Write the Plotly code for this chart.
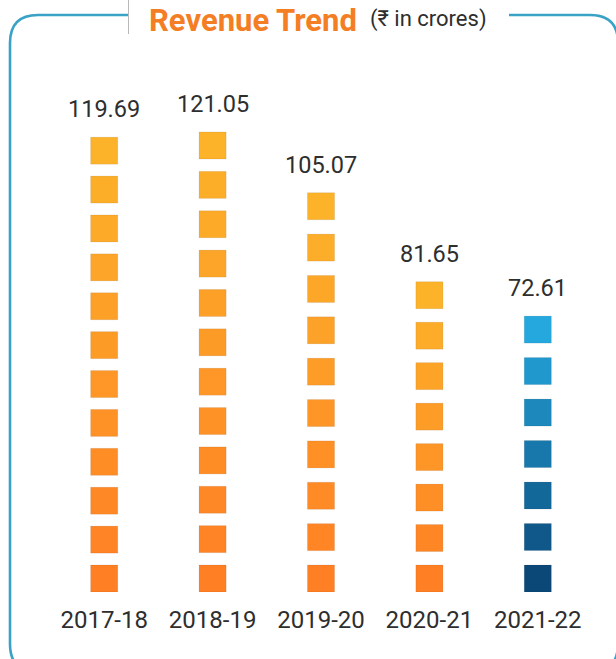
import plotly.graph_objects as go

# Revenue per financial year (₹ in crores)
years = ["2017-18", "2018-19", "2019-20", "2020-21", "2021-22"]
revenue = [119.69, 121.05, 105.07, 81.65, 72.61]
tile_counts = [12, 12, 10, 8, 7]

# Column gradients (top colour, bottom colour)
orange_top, orange_bottom = (252, 179, 42), (255, 127, 36)
blue_top, blue_bottom = (36, 168, 222), (11, 72, 120)
gradients = [(orange_top, orange_bottom)] * 4 + [(blue_top, blue_bottom)]

FONT = "Roboto, Noto Sans, sans-serif"
W, H = 616, 659
M = dict(l=50, r=24, t=100, b=67)
PX_PER_UNIT = 3.8
plot_h = H - M["t"] - M["b"]
plot_w = W - M["l"] - M["r"]
y_max = plot_h / PX_PER_UNIT
tile_h = 27 / PX_PER_UNIT
tile_w = 0.25


def mix(c1, c2, f):
    r, g, b = (round(a + (b_ - a) * f) for a, b_ in zip(c1, c2))
    return f"rgb({r},{g},{b})"


def px_x(px):
    return (px - M["l"]) / plot_w


def px_y(py):
    return 1 - (py - M["t"]) / plot_h


fig = go.Figure()

for i, (val, n, (top_c, bot_c)) in enumerate(zip(revenue, tile_counts, gradients)):
    step = (val - tile_h) / (n - 1)
    bases = [j * step for j in range(n)]
    colors = [mix(bot_c, top_c, j / (n - 1)) for j in range(n)]
    fig.add_trace(go.Bar(
        x=[i] * n,
        base=bases,
        y=[tile_h] * n,
        width=tile_w,
        marker=dict(color=colors, line=dict(width=0.6, color="rgba(0,0,0,0.12)")),
        hoverinfo="skip",
        showlegend=False,
    ))
    fig.add_annotation(
        x=i, y=val, xref="x", yref="y",
        text=f"{val:.2f}", showarrow=False,
        yanchor="bottom", yshift=12,
        font=dict(family=FONT, size=23.5, color="#2e2e2e"),
    )

# Rounded frame around the chart
x0, x1 = px_x(10), px_x(618)
y0, y1 = px_y(15), px_y(672)
rx = 28 / plot_w
ry = 28 / plot_h
frame = (
    f"M {x0},{y1 + ry} L {x0},{y0 - ry} Q {x0},{y0} {x0 + rx},{y0} "
    f"L {x1 - rx},{y0} Q {x1},{y0} {x1},{y0 - ry} "
    f"L {x1},{y1 + ry} Q {x1},{y1} {x1 - rx},{y1} "
    f"L {x0 + rx},{y1} Q {x0},{y1} {x0},{y1 + ry} Z"
)
shapes = [
    dict(type="path", path=frame, xref="paper", yref="paper",
         line=dict(color="#3aa2c7", width=2.6), fillcolor="rgba(0,0,0,0)", layer="below"),
    # title plate
    dict(type="rect", xref="paper", yref="paper",
         x0=px_x(128), x1=px_x(509), y0=px_y(34), y1=px_y(-2),
         fillcolor="white", line=dict(width=0), layer="below"),
    dict(type="line", xref="paper", yref="paper",
         x0=px_x(128.5), x1=px_x(128.5), y0=px_y(34), y1=px_y(0),
         line=dict(color="#b8b8b8", width=1)),
]

fig.add_annotation(
    x=px_x(147), y=px_y(0), xref="paper", yref="paper",
    xanchor="left", yanchor="top", showarrow=False,
    text="<b>Revenue Trend</b>",
    font=dict(family=FONT, size=31, color="#f47e24"),
)
fig.add_annotation(
    x=px_x(368), y=px_y(34), xref="paper", yref="paper",
    xanchor="left", yanchor="bottom", showarrow=False,
    text="(₹ in crores)",
    font=dict(family=FONT, size=22, color="#2e2e2e"),
)

fig.update_layout(
    width=W, height=H,
    margin=M,
    paper_bgcolor="white", plot_bgcolor="white",
    barmode="overlay",
    shapes=shapes,
    xaxis=dict(
        range=[-0.5, 4.5], tickmode="array", tickvals=list(range(len(years))),
        ticktext=years, showgrid=False, zeroline=False, showline=False,
        ticks="outside", ticklen=6, tickcolor="rgba(0,0,0,0)",
        tickfont=dict(family=FONT, size=24, color="#2e2e2e"),
        fixedrange=True,
    ),
    yaxis=dict(
        range=[0, y_max], visible=False, fixedrange=True,
    ),
)

fig.write_html("out.html")
